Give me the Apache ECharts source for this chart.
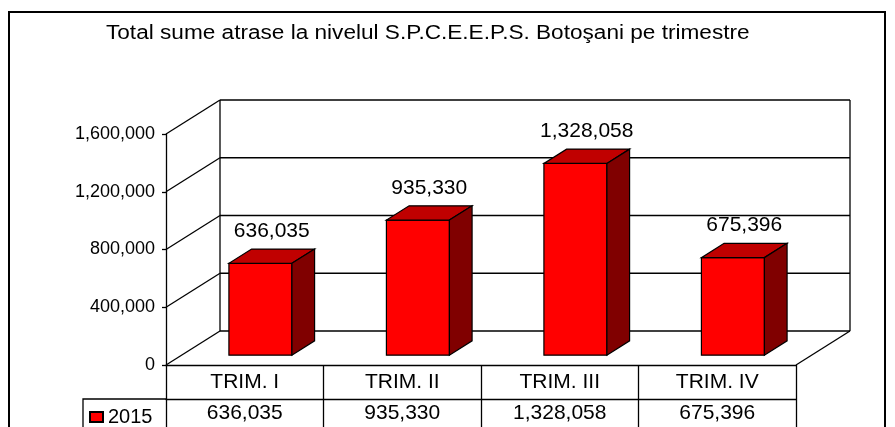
<!DOCTYPE html>
<html>
<head>
<meta charset="utf-8">
<script src="https://cdn.jsdelivr.net/npm/echarts@6/dist/echarts.min.js"></script>
<style>
  html, body { margin: 0; padding: 0; background: #fff; }
  #chart { width: 895px; height: 427px; }
</style>
</head>
<body>
<div id="chart"></div>
<script>
// chart data
var categories = ['TRIM. I', 'TRIM. II', 'TRIM. III', 'TRIM. IV']
var seriesName = '2015'
var values2015 = [636035, 935330, 1328058, 675396]
var yTicks = [0, 400000, 800000, 1200000, 1600000]
var titleText = 'Total sume atrase la nivelul S.P.C.E.E.P.S. Botoşani pe trimestre'

// 3d look
var DEPTH_X = 54
var DEPTH_Y = -34
var NEAR = 0.29
var FAR = 0.71
var BAR_RATIO = 0.4
var FONT = '"Liberation Sans", Arial, sans-serif'

function fmt (v) {
  return String(v).replace(/\B(?=(\d{3})+(?!\d))/g, ',')
}

function line (x1, y1, x2, y2) {
  return {
    type: 'line',
    shape: { x1: x1, y1: y1, x2: x2, y2: y2 },
    style: { stroke: '#000', lineWidth: 1.3 }
  }
}

function renderFrame (params, api) {
  var cs = params.coordSys
  var x0 = cs.x
  var x1 = cs.x + cs.width
  var children = []
  yTicks.forEach(function (v) {
    var y = api.coord([0, v])[1]
    children.push(line(x0, y, x0 + DEPTH_X, y + DEPTH_Y))
    children.push(line(x0 + DEPTH_X, y + DEPTH_Y, x1 + DEPTH_X, y + DEPTH_Y))
  })
  var yTop = api.coord([0, yTicks[yTicks.length - 1]])[1]
  var yBot = api.coord([0, 0])[1]
  children.push(line(x0 + DEPTH_X, yTop + DEPTH_Y, x0 + DEPTH_X, yBot + DEPTH_Y))
  children.push(line(x1 + DEPTH_X, yTop + DEPTH_Y, x1 + DEPTH_X, yBot + DEPTH_Y))
  children.push(line(x1, yBot, x1 + DEPTH_X, yBot + DEPTH_Y))
  return { type: 'group', children: children }
}

function renderBar (params, api) {
  var cat = api.value(0)
  var val = api.value(1)
  var top = api.coord([cat, val])
  var base = api.coord([cat, 0])
  var bw = api.size([1, 0])[0] * BAR_RATIO
  var ox = DEPTH_X * NEAR
  var oy = DEPTH_Y * NEAR
  var dx = DEPTH_X * (FAR - NEAR)
  var dy = DEPTH_Y * (FAR - NEAR)
  var xa = top[0] - bw / 2 + ox
  var xb = xa + bw
  var yt = top[1] + oy
  var yb = base[1] + oy
  var edge = { stroke: '#000', lineWidth: 1.2 }
  return {
    type: 'group',
    children: [
      {
        type: 'polygon',
        shape: { points: [[xa, yt], [xb, yt], [xb, yb], [xa, yb]] },
        style: Object.assign({ fill: '#FF0000' }, edge)
      },
      {
        type: 'polygon',
        shape: { points: [[xa, yt], [xb, yt], [xb + dx, yt + dy], [xa + dx, yt + dy]] },
        style: Object.assign({ fill: '#C00000' }, edge)
      },
      {
        type: 'polygon',
        shape: { points: [[xb, yt], [xb + dx, yt + dy], [xb + dx, yb + dy], [xb, yb]] },
        style: Object.assign({ fill: '#800000' }, edge)
      },
      {
        type: 'text',
        style: {
          text: fmt(val),
          x: xa + bw / 2 + dx / 2,
          y: yt + dy / 2 - 25,
          align: 'center',
          verticalAlign: 'middle',
          font: '21px ' + FONT,
          fill: '#000'
        }
      }
    ]
  }
}

var chart = echarts.init(document.getElementById('chart'))
chart.setOption({
  animation: false,
  backgroundColor: '#fff',
  legend: {
    data: [seriesName],
    left: 89,
    top: 407,
    padding: 0,
    icon: 'rect',
    itemWidth: 13,
    itemHeight: 10,
    itemGap: 5,
    textStyle: { fontFamily: FONT, fontSize: 20, color: '#000' }
  },
  grid: { left: 166, right: 99, top: 134, bottom: 62 },
  xAxis: [
    {
      type: 'category',
      data: categories,
      position: 'bottom',
      axisLine: { lineStyle: { color: '#000', width: 1.3 } },
      axisTick: { show: true, length: 62, lineStyle: { color: '#000', width: 1.3 } },
      axisLabel: { margin: 7, color: '#000', fontFamily: FONT, fontSize: 21 },
      splitLine: { show: false }
    },
    {
      type: 'category',
      data: values2015.map(fmt),
      position: 'bottom',
      offset: 34,
      axisLine: { lineStyle: { color: '#000', width: 1.3 } },
      axisTick: { show: false },
      axisLabel: { margin: 4, color: '#000', fontFamily: FONT, fontSize: 21 },
      splitLine: { show: false }
    }
  ],
  yAxis: {
    type: 'value',
    min: 0,
    max: 1600000,
    interval: 400000,
    axisLine: { show: true, lineStyle: { color: '#000', width: 1.3 } },
    axisTick: { show: true, length: 4, lineStyle: { color: '#000', width: 1.3 } },
    axisLabel: { margin: 11, color: '#000', fontFamily: FONT, fontSize: 18, formatter: fmt },
    splitLine: { show: false }
  },
  graphic: [
    {
      // title, a bit stretched sideways like the original
      type: 'text',
      x: 106,
      y: 33,
      scaleX: 1.13,
      style: {
        text: titleText,
        font: '20px ' + FONT,
        fill: '#000',
        align: 'left',
        verticalAlign: 'middle'
      },
      silent: true
    },
    {
      type: 'rect',
      shape: { x: 9, y: 12, width: 876, height: 440 },
      style: { fill: null, stroke: '#000', lineWidth: 2 },
      silent: true
    },
    {
      type: 'polyline',
      shape: { points: [[83, 430], [83, 399], [166, 399]] },
      style: { fill: null, stroke: '#000', lineWidth: 1.3 },
      silent: true
    }
  ],
  series: [
    {
      name: 'frame',
      type: 'custom',
      silent: true,
      z: 1,
      renderItem: renderFrame,
      data: [[0, 0]]
    },
    {
      name: seriesName,
      type: 'custom',
      z: 5,
      itemStyle: { color: '#FF0000', borderColor: '#000', borderWidth: 1 },
      renderItem: renderBar,
      data: values2015.map(function (v, i) { return [i, v] })
    }
  ]
})
</script>
</body>
</html>
